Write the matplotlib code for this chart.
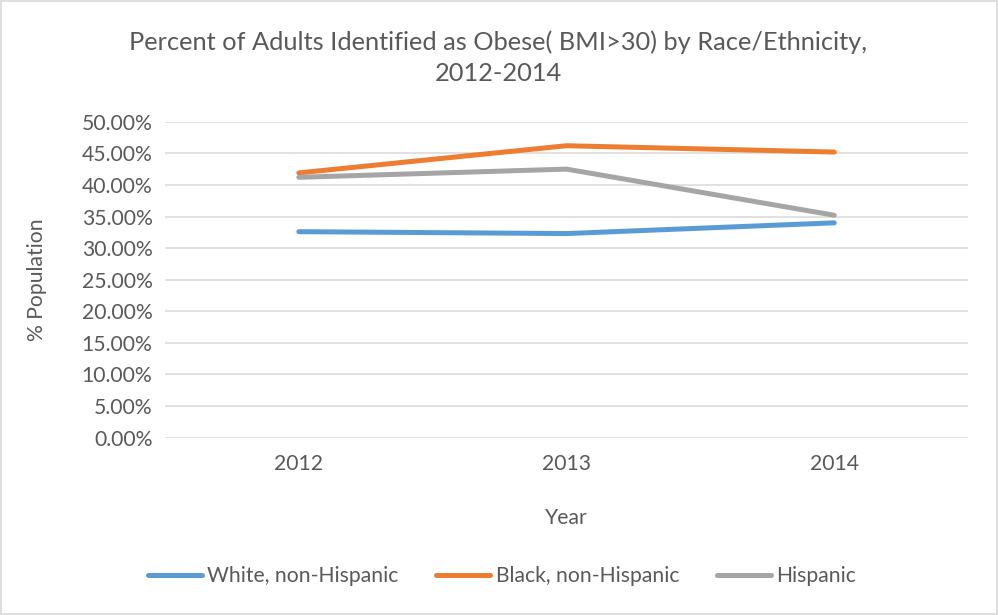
import matplotlib.pyplot as plt
from matplotlib.ticker import FuncFormatter, MultipleLocator
from matplotlib.patches import Rectangle

plt.rcParams['font.family'] = ['Lato', 'DejaVu Sans']

years = ['2012', '2013', '2014']
white = [32.6, 32.3, 34.0]
black = [41.9, 46.2, 45.2]
hispanic = [41.2, 42.5, 35.2]

text_color = '#595959'
grid_color = '#d9d9d9'
fs = 15.2

fig = plt.figure(figsize=(9.98, 6.15), dpi=100)
ax = fig.add_axes([0.1653, 0.2883, 0.8047, 0.5138])

x = range(len(years))
ax.plot(x, white, color='#5B9BD5', lw=3.6, solid_capstyle='round', label='White, non-Hispanic')
ax.plot(x, black, color='#ED7D31', lw=3.6, solid_capstyle='round', label='Black, non-Hispanic')
ax.plot(x, hispanic, color='#A5A5A5', lw=3.6, solid_capstyle='round', label='Hispanic')

ax.set_xlim(-0.5, 2.5)
ax.set_ylim(0, 50)
ax.set_xticks(list(x))
ax.set_xticklabels(years)
ax.yaxis.set_major_locator(MultipleLocator(5))
ax.yaxis.set_major_formatter(FuncFormatter(lambda v, p: f'{v:.2f}%'))
ax.grid(axis='y', color=grid_color, lw=1.1)
ax.set_axisbelow(True)
for s in ax.spines.values():
    s.set_visible(False)
ax.tick_params(length=0, labelsize=fs, colors=text_color, pad=9)
ax.tick_params(axis='x', pad=12)

ax.set_xlabel('Year', fontsize=fs, color=text_color, va='center')
ax.xaxis.set_label_coords(0.5, -0.254)
ax.set_ylabel('% Population', fontsize=fs, color=text_color, va='center')
ax.yaxis.set_label_coords(-0.159, 0.5)

fig.text(0.499, 0.932, 'Percent of Adults Identified as Obese( BMI>30) by Race/Ethnicity,',
         ha='center', va='center', fontsize=18.3, color=text_color)
fig.text(0.499, 0.881, '2012-2014', ha='center', va='center', fontsize=18.3, color=text_color)

fig.legend(loc='center', bbox_to_anchor=(0.503, 0.063), ncol=3, frameon=False,
           fontsize=fs, labelcolor=text_color, handlelength=2.55, handletextpad=0.25,
           columnspacing=1.8)

fig.patches.append(Rectangle((0.001, 0.001), 0.998, 0.997, transform=fig.transFigure,
                             fill=False, edgecolor=grid_color, lw=1.2))

fig.savefig('out.png', dpi=100)
